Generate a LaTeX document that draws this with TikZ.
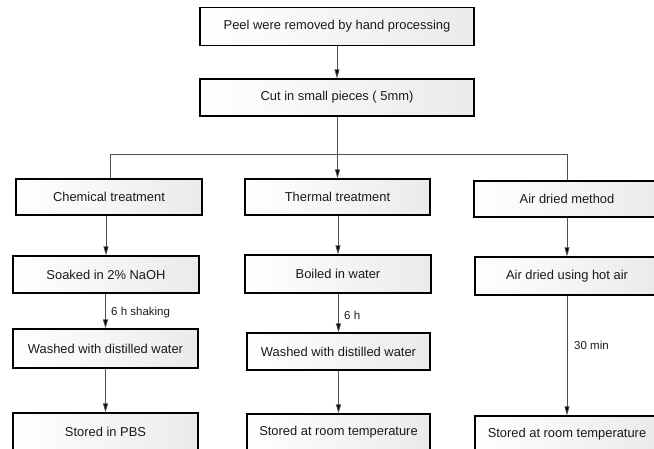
\documentclass[tikz,border=0pt]{standalone}
\usepackage{fontspec}
\setmainfont{Liberation Sans}
\usetikzlibrary{arrows.meta}
\definecolor{txt}{HTML}{1A1A1A}
\definecolor{ln}{HTML}{505050}
\tikzset{
  box/.style={draw=black, line width=1.2pt, left color=white, right color=black!8,
    minimum height=37pt, inner sep=0pt, text=txt, font=\fontsize{12.9}{14}\selectfont},
  conn/.style={draw=ln, line width=0.8pt},
  arr/.style={conn, -{Triangle[length=9pt,width=5pt,fill=black]}},
  lbl/.style={text=txt, font=\fontsize{11.5}{13}\selectfont, inner sep=0pt, anchor=west}
}
\begin{document}
\begin{tikzpicture}[x=1pt,y=1pt]
\useasboundingbox (0,0) rectangle (654,-448);
\clip (0,0) rectangle (654,-448);
\node[box, minimum width=274pt, minimum height=38pt] (peel) at (337,-26.5) {Peel were removed by hand processing};
\node[box, minimum width=274pt] (cut) at (337,-97.5) {Cut in small pieces ( 5mm)};
\node[box, minimum width=186pt, minimum height=36pt] (chem) at (109,-197) {Chemical treatment};
\node[box, minimum width=185pt, minimum height=36pt] (therm) at (337.5,-197) {Thermal treatment};
\node[box, minimum width=186pt, minimum height=36pt] (airm) at (567,-199) {Air dried method};
\node[box, minimum width=186pt] (soak) at (106,-274.5) {Soaked in 2\% NaOH};
\node[box, minimum width=186pt, minimum height=38pt] (boil) at (338,-274) {Boiled in water};
\node[box, minimum width=184pt, minimum height=38pt] (airh) at (567,-276) {Air dried using hot air};
\node[box, minimum width=185pt, minimum height=39pt] (wash1) at (105.5,-348.5) {Washed with distilled water};
\node[box, minimum width=183pt] (wash2) at (338.5,-351.5) {Washed with distilled water};
\node[box, minimum width=185pt] (st1) at (105.5,-431.5) {Stored in PBS};
\node[box, minimum width=183pt] (st2) at (338.5,-432.5) {Stored at room temperature};
\node[box, minimum width=184pt] (st3) at (567,-434.5) {Stored at room temperature};
\coordinate (bus) at (337,-154);
\coordinate (busL) at (110,-154);
\coordinate (busR) at (567,-154);
\draw[arr] (peel.south) -- (cut.north);
\draw[conn] (cut.south) -- (bus);
\draw[conn] (chem.north -| busL) -- (busL) -- (busR) -- (airm.north -| busR);
\draw[arr] (therm.north |- bus) -- (therm.north);
\draw[arr] (soak.north |- chem.south) -- (soak.north);
\draw[arr] (boil.north |- therm.south) -- (boil.north);
\draw[arr] (airh.north |- airm.south) -- (airh.north);
\draw[arr] (wash1.north |- soak.south) -- (wash1.north);
\draw[arr] (wash2.north |- boil.south) -- (wash2.north);
\draw[arr] (st1.north |- wash1.south) -- (st1.north);
\draw[arr] (st2.north |- wash2.south) -- (st2.north);
\draw[arr] (st3.north |- airh.south) -- (st3.north);
\node[lbl] (l1) at (111,-313) {6 h shaking};
\node[lbl] (l2) at (344,-315) {6 h};
\node[lbl] (l3) at (574,-345) {30 min};
\end{tikzpicture}
\end{document}
